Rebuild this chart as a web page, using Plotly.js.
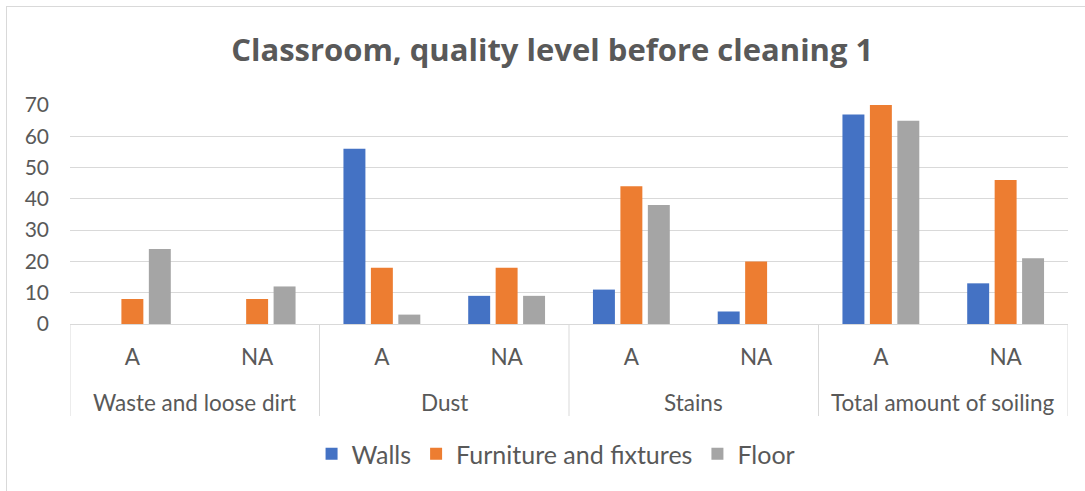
<!DOCTYPE html>
<html>
<head>
<meta charset="utf-8">
<script src="https://cdn.plot.ly/plotly-3.0.1.min.js"></script>
<style>
  html, body { margin: 0; padding: 0; overflow: hidden; background: #fff; }
  #chart { width: 1085px; height: 491px; position: relative; }
  #frame { position: absolute; left: 6px; top: 6px; width: 1200px; height: 600px;
           border: 1px solid #D9D9D9; pointer-events: none; }
</style>
</head>
<body>
<div id="chart"></div>
<div id="frame"></div>
<script>
const groups = ["Waste and loose dirt", "Dust", "Stains", "Total amount of soiling"];
const subs = ["A", "NA"];
const walls = [0, 0, 56, 9, 11, 4, 67, 13];
const furniture = [8, 8, 18, 18, 44, 20, 70, 46];
const floor = [24, 12, 3, 9, 38, 0, 65, 21];
const seriesNames = ["Walls", "Furniture and fixtures", "Floor"];
const colors = ["#4472C4", "#ED7D31", "#A5A5A5"];
const yTicks = [0, 10, 20, 30, 40, 50, 60, 70];

// unique category keys, labelled with the inner level on the axis
const cats = [], catText = [];
groups.forEach(g => subs.forEach(s => { cats.push(g + " | " + s); catText.push(s); }));

const font = "Lato, 'Open Sans', sans-serif";
const txt = "#595959";
const lineCol = "#D9D9D9";

// plot area geometry (px) used to place the outer label row
const plotH = 491 - 105 - 167;
const groupLabelY = -(402 - 324) / plotH;
const dividerBottom = -(416 - 324) / plotH;

const traces = [walls, furniture, floor].map((vals, i) => ({
  type: "bar",
  name: seriesNames[i],
  x: cats,
  y: vals,
  marker: { color: colors[i] },
  hoverinfo: "y"
}));

const annotations = groups.map((g, gi) => ({
  text: g, xref: "x", yref: "paper",
  x: gi * subs.length + (subs.length - 1) / 2, y: groupLabelY,
  xanchor: "center", yanchor: "middle", showarrow: false,
  font: { family: font, size: 22.5, color: txt }
}));

const shapes = [];
for (let gi = 0; gi <= groups.length; gi++) {
  const xb = gi * subs.length - 0.5;
  shapes.push({
    type: "line", xref: "x", yref: "paper",
    x0: xb, x1: xb, y0: 0, y1: dividerBottom,
    line: { color: lineCol, width: 1 }, layer: "below"
  });
}

const layout = {
  width: 1085, height: 491,
  margin: { l: 70, r: 17, t: 105, b: 167 },
  paper_bgcolor: "#fff", plot_bgcolor: "#fff",
  barmode: "group", bargap: 0.34, bargroupgap: 0.2,
  font: { family: font, color: txt, size: 21 },
  title: {
    text: "<b>Classroom, quality level before cleaning 1</b>",
    font: { family: "'Open Sans', Lato, sans-serif", size: 31, color: txt },
    xref: "container", x: 0.509, xanchor: "center",
    yref: "container", y: 0.898, yanchor: "middle"
  },
  xaxis: {
    type: "category", categoryorder: "array", categoryarray: cats,
    tickvals: cats, ticktext: catText,
    range: [-0.5, cats.length - 0.5],
    showline: true, linecolor: lineCol, linewidth: 1,
    ticks: "", ticklabelstandoff: 13,
    tickfont: { family: font, size: 22.5, color: txt },
    showgrid: false, zeroline: false
  },
  yaxis: {
    range: [0, 70], tickvals: yTicks, ticktext: yTicks.map(String),
    showgrid: true, gridcolor: lineCol, gridwidth: 1,
    zeroline: false, showline: false, ticks: "",
    ticklabelstandoff: 20,
    tickfont: { family: font, size: 21, color: txt }
  },
  legend: {
    orientation: "h", x: 0.5125, xref: "container", xanchor: "center",
    y: 1 - 454 / 491, yref: "container", yanchor: "middle",
    font: { family: font, size: 25, color: txt },
    itemwidth: 30, tracegroupgap: 0
  },
  annotations: annotations,
  shapes: shapes,
  showlegend: true
};

Plotly.newPlot("chart", traces, layout, { displayModeBar: false, staticPlot: true });
</script>
</body>
</html>
